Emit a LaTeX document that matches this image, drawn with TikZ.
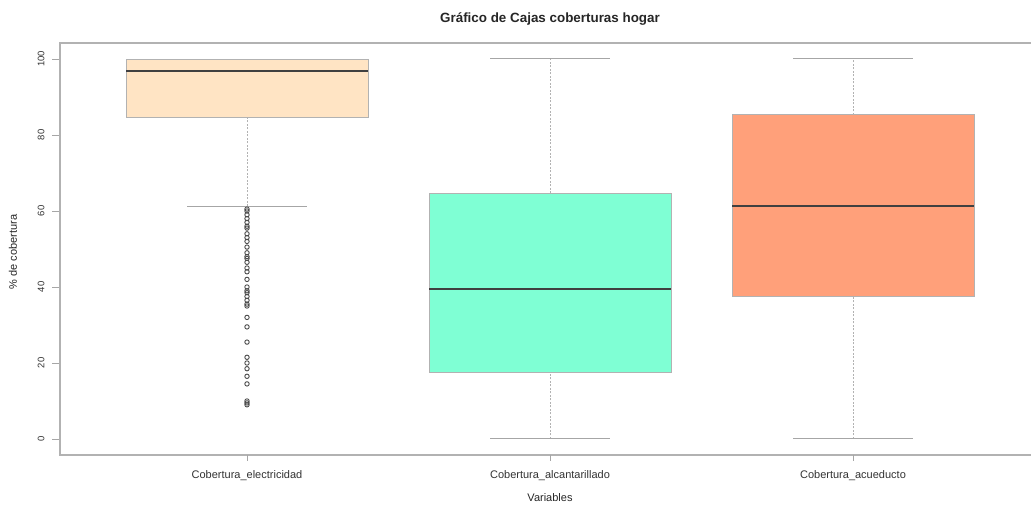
\documentclass[tikz,border=0pt]{standalone}
\usepackage{fontspec}
\setmainfont{Liberation Sans}
\definecolor{bisque}{HTML}{FFE4C4}
\definecolor{aquam}{HTML}{7FFFD4}
\definecolor{lsalmon}{HTML}{FFA07A}
\begin{document}
\begin{tikzpicture}[x=1pt,y=1pt,
  frame/.style={draw=black!30, line width=1.3pt},
  tickmark/.style={draw=black!35, line width=0.9pt},
  whisk/.style={draw=black!30, line width=0.9pt, dash pattern=on 2pt off 1.5pt},
  capline/.style={draw=black!35, line width=1pt},
  boxline/.style={draw=black!30, line width=0.8pt},
  medline/.style={draw=black!75, line width=2pt},
  outl/.style={draw=black!70, line width=0.9pt},
  ylab/.style={font=\fontsize{9.5}{11}\selectfont, text=black!80, rotate=90},
  xlab/.style={font=\fontsize{11}{13}\selectfont, text=black!80},
  axtitle/.style={font=\fontsize{11}{13}\selectfont, text=black!85},
  maintitle/.style={font=\fontsize{13.4}{15}\selectfont\bfseries, text=black!85}
]
\useasboundingbox (0,0) rectangle (1031,506);
\clip (0,0) rectangle (1031,506);
\fill[white] (0,0) rectangle (1031,506);

% data region: y in percent
\begin{scope}[y=3.8pt, yshift=67pt]
  % boxes: centre / lower whisker / Q1 / median / Q3 / upper whisker / fill
  \foreach \c/\lo/\qa/\me/\qb/\hi/\col in {
      247/61.3/84.5/96.8/100/100/bisque,
      550/0/17.4/39.5/64.7/100/aquam,
      853/0/37.6/61.3/85.3/100/lsalmon}{
    \draw[whisk] (\c,\lo) -- (\c,\qa);
    \draw[capline] (\c-60,\lo) -- (\c+60,\lo);
    \pgfmathparse{\hi>\qb ? 1 : 0}
    \ifnum\pgfmathresult=1
      \draw[whisk] (\c,\qb) -- (\c,\hi);
      \draw[capline] (\c-60,\hi) -- (\c+60,\hi);
    \fi
    \filldraw[boxline, fill=\col] (\c-121,\qa) rectangle (\c+121,\qb);
    \draw[medline] (\c-121,\me) -- (\c+121,\me);
  }
  % outliers of the electricity series
  \foreach \v in {60.5,60,59,58,57,56,55.5,54,53,52,50.5,49,48,47.5,46.5,45,44,
                  42,40,39,38.5,37.5,36.5,35.5,35,32,29.5,25.5,21.5,20,18.5,16.5,
                  14.5,10,9.5,9}
    \draw[outl] (247,\v) circle[radius=2.2pt];
  % y axis
  \foreach \v in {0,20,...,100}{
    \draw[tickmark] (52,\v) -- (60,\v);
    \node[ylab] (yt\v) at (41,\v) {\v};
  }
  \draw[frame] (60,-4.2) rectangle (1045,104.2);
\end{scope}

% x axis ticks and labels
\foreach \x/\n/\t in {247/a/Cobertura\_electricidad,
                      550/b/Cobertura\_alcantarillado,
                      853/c/Cobertura\_acueducto}{
  \draw[tickmark] (\x,51) -- (\x,45);
  \node[xlab] (xl\n) at (\x,30) {\t};
}

\node[axtitle] (xaxis) at (550,8) {Variables};
\node[axtitle, rotate=90] (yaxis) at (13,254) {\% de cobertura};
\node[maintitle] (title) at (550,487) {Gráfico de Cajas coberturas hogar};
\end{tikzpicture}
\end{document}
